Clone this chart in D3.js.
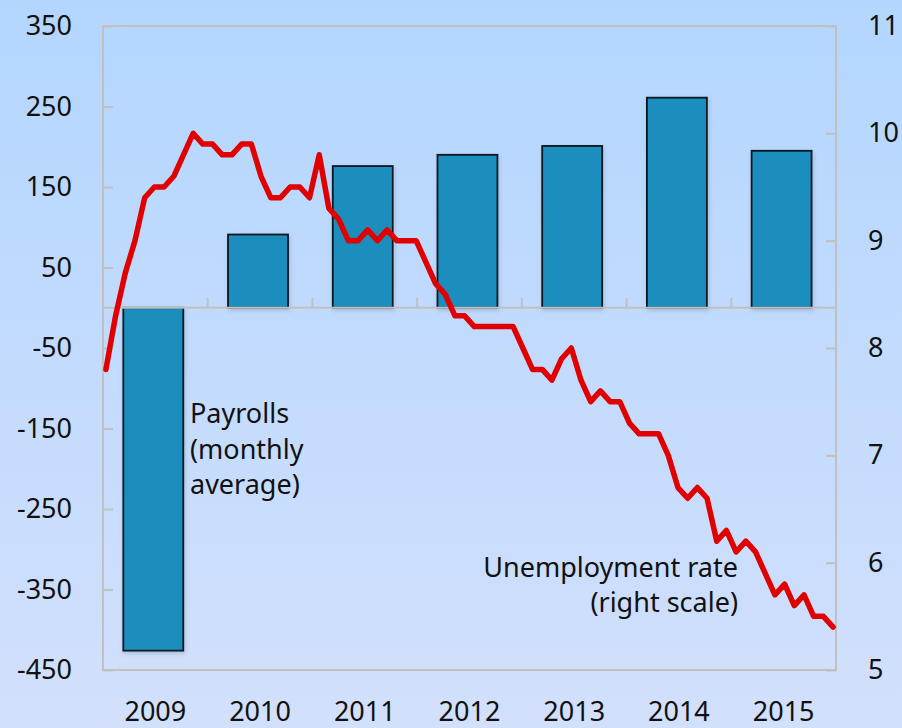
<!DOCTYPE html>
<html>
<head>
<meta charset="utf-8">
<script src="https://cdn.jsdelivr.net/npm/d3@7"></script>
<style>
  html, body { margin: 0; padding: 0; }
  body { width: 902px; height: 728px; overflow: hidden; }
  svg text { font-family: "Noto Sans", "Open Sans", sans-serif; fill: #111; }
</style>
</head>
<body>
<svg id="chart" width="902" height="728"></svg>
<script>
// annual payrolls, thousands (monthly average)
const years = ["2009", "2010", "2011", "2012", "2013", "2014", "2015"];
const payrolls = [-426, 91, 176, 190, 201, 261, 195];

// unemployment rate, monthly, Jan 2009 - Apr 2015
const unemp2009 = [7.8, 8.3, 8.7, 9.0, 9.4, 9.5, 9.5, 9.6, 9.8, 10.0, 9.9, 9.9];
const unemp2010 = [9.8, 9.8, 9.9, 9.9, 9.6, 9.4, 9.4, 9.5, 9.5, 9.4, 9.8, 9.3];
const unemp2011 = [9.2, 9.0, 9.0, 9.1, 9.0, 9.1, 9.0, 9.0, 9.0, 8.8, 8.6, 8.5];
const unemp2012 = [8.3, 8.3, 8.2, 8.2, 8.2, 8.2, 8.2, 8.0, 7.8, 7.8, 7.7, 7.9];
const unemp2013 = [8.0, 7.7, 7.5, 7.6, 7.5, 7.5, 7.3, 7.2, 7.2, 7.2, 7.0, 6.7];
const unemp2014 = [6.6, 6.7, 6.6, 6.2, 6.3, 6.1, 6.2, 6.1, 5.9, 5.7, 5.8, 5.6];
const unemp2015 = [5.7, 5.5, 5.5, 5.4];

const leftTicks = [350, 250, 150, 50, -50, -150, -250, -350, -450];
const rightTicks = [5, 6, 7, 8, 9, 10, 11];

const unemp = [].concat(unemp2009, unemp2010, unemp2011, unemp2012, unemp2013, unemp2014, unemp2015);

var plotLeft = 103, plotRight = 836, plotTop = 26, plotBottom = 670;

var svg = d3.select('#chart');

// background gradient
var defs = svg.append('defs');
var grad = defs.append('linearGradient')
    .attr('id', 'bg').attr('x1', 0).attr('y1', 0).attr('x2', 0).attr('y2', 1);
grad.append('stop').attr('offset', '0%').attr('stop-color', '#b3d6ff');
grad.append('stop').attr('offset', '100%').attr('stop-color', '#d2e0fc');

var shadow = defs.append('filter').attr('id', 'shadow')
    .attr('x', '-20%').attr('y', '-20%').attr('width', '140%').attr('height', '140%');
shadow.append('feDropShadow')
    .attr('dx', 1).attr('dy', 2).attr('stdDeviation', 2)
    .attr('flood-color', '#6a7a99').attr('flood-opacity', 0.35);

svg.append('rect').attr('width', 902).attr('height', 728).attr('fill', 'url(#bg)');

var xCat = d3.scaleBand().domain(years).range([plotLeft, plotRight]);
var yL = d3.scaleLinear().domain([-450, 350]).range([plotBottom, plotTop]);
var yR = d3.scaleLinear().domain([5, 11]).range([plotBottom, plotTop]);
var xM = d3.scalePoint().domain(d3.range(unemp.length)).range([plotLeft, plotRight]).padding(0.3);

// plain hyphen for negatives, as in the original
var fmt = (d) => String(d);

// plot border
svg.append('rect')
    .attr('x', plotLeft).attr('y', plotTop)
    .attr('width', plotRight - plotLeft).attr('height', plotBottom - plotTop)
    .attr('fill', 'none').attr('stroke', '#c0c0c0').attr('stroke-width', 2);

// left axis
var axL = svg.append('g')
    .attr('transform', `translate(${plotLeft},0)`)
    .call(d3.axisLeft(yL).tickValues(leftTicks).tickFormat(fmt).tickSize(-10).tickPadding(31));

// right axis
var axR = svg.append('g')
    .attr('transform', `translate(${plotRight},0)`)
    .call(d3.axisRight(yR).tickValues(rightTicks).tickFormat(fmt).tickSize(-10).tickPadding(32));

// year labels
var axB = svg.append('g')
    .attr('transform', `translate(0,${plotBottom})`)
    .call(d3.axisBottom(xCat).tickSize(0).tickPadding(32));

[axL, axR, axB].forEach(function (g) {
    g.select('.domain').remove();
    g.selectAll('line').attr('stroke', '#c0c0c0').attr('stroke-width', 2);
    g.selectAll('text').style('font-size', '27px').attr('fill', '#111');
});

// bars
var bw = xCat.bandwidth();
svg.append('g')
    .selectAll('rect')
    .data(years)
    .join('rect')
    .attr('x', (d) => xCat(d) + bw * 0.194)
    .attr('width', bw * 0.573)
    .attr('y', (d, i) => Math.min(yL(payrolls[i]), yL(0)))
    .attr('height', (d, i) => Math.abs(yL(payrolls[i]) - yL(0)))
    .attr('fill', '#1b8ebd')
    .attr('stroke', '#0a141b')
    .attr('stroke-width', 1.8)
    .attr('filter', 'url(#shadow)');

// zero line with category dividers
svg.append('line')
    .attr('x1', plotLeft).attr('x2', plotRight)
    .attr('y1', yL(0)).attr('y2', yL(0))
    .attr('stroke', '#c0c0c0').attr('stroke-width', 2);

svg.append('g')
    .selectAll('line')
    .data(years.slice(1))
    .join('line')
    .attr('x1', (d) => xCat(d)).attr('x2', (d) => xCat(d))
    .attr('y1', yL(0)).attr('y2', yL(0) - 10)
    .attr('stroke', '#c0c0c0').attr('stroke-width', 2);

// unemployment line
var line = d3.line()
    .x((d, i) => xM(i))
    .y((d) => yR(d));

svg.append('path')
    .datum(unemp)
    .attr('d', line)
    .attr('fill', 'none')
    .attr('stroke', '#e00000')
    .attr('stroke-width', 5.5)
    .attr('stroke-linejoin', 'round')
    .attr('stroke-linecap', 'round');

// annotations
var note1 = svg.append('text')
    .attr('x', 190).attr('y', 423)
    .style('font-size', '27px');
['Payrolls', '(monthly', 'average)'].forEach(function (t, i) {
    note1.append('tspan').attr('x', 190).attr('dy', i === 0 ? 0 : 35.5).text(t);
});

var note2 = svg.append('text')
    .attr('x', 738).attr('y', 577)
    .attr('text-anchor', 'end')
    .style('font-size', '27px');
['Unemployment rate', '(right scale)'].forEach(function (t, i) {
    note2.append('tspan').attr('x', 738).attr('dy', i === 0 ? 0 : 35).text(t);
});
</script>
</body>
</html>
